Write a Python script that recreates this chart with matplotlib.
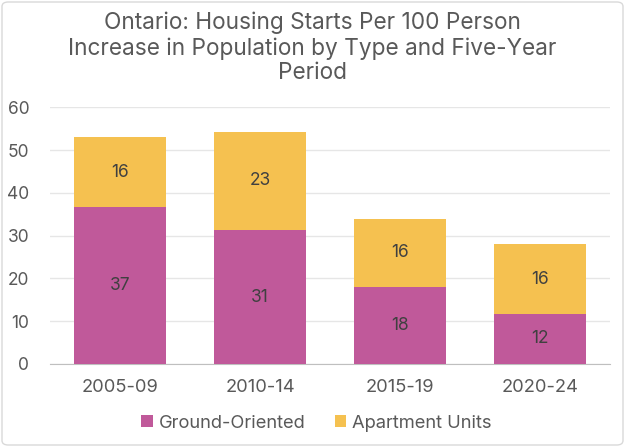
import matplotlib
matplotlib.use('Agg')
from matplotlib import pyplot as plt
from matplotlib.patches import FancyBboxPatch
import numpy as np

periods = ['2005-09', '2010-14', '2015-19', '2020-24']
ground = [36.6, 31.3, 18.0, 11.7]
apartment = [16.4, 23.0, 16.0, 16.3]

C_GROUND = '#C0599A'
C_APT = '#F5C150'
TXT = '#595959'

plt.rcParams['font.family'] = ['Inter', 'DejaVu Sans']

fig = plt.figure(figsize=(6.25, 4.47), dpi=100)
ax = fig.add_axes([50/625, 1-364/447, 560/625, (364-107.3)/447])

x = np.arange(len(periods))
w = 0.66
b1 = ax.bar(x, ground, w, color=C_GROUND, label='Ground-Oriented', zorder=3)
b2 = ax.bar(x, apartment, w, bottom=ground, color=C_APT, label='Apartment Units', zorder=3)

for i in range(len(periods)):
	ax.text(x[i], ground[i]/2, '%d' % round(ground[i]), ha='center', va='center', fontsize=12.5, color='#404040', zorder=4)
	ax.text(x[i], ground[i]+apartment[i]/2, '%d' % round(apartment[i]), ha='center', va='center', fontsize=12.5, color='#404040', zorder=4)

ax.set_xlim(-0.5, 3.5)
ax.set_ylim(0, 60)
ax.set_yticks(range(0, 61, 10))
ax.set_xticks(x)
ax.set_xticklabels(periods)
ax.tick_params(axis='both', length=0, colors=TXT)
ax.tick_params(axis='x', pad=11, labelsize=13.2)
ax.tick_params(axis='y', pad=15, labelsize=12.5)
ax.grid(axis='y', color='#E6E6E6', linewidth=1, zorder=0)
for s in ['top', 'right', 'left']:
	ax.spines[s].set_visible(False)
ax.spines['bottom'].set_color('#BFBFBF')

fig.text(0.5, 1-48/447, 'Ontario: Housing Starts Per 100 Person\nIncrease in Population by Type and Five-Year\nPeriod',
	ha='center', va='center', fontsize=16.3, color=TXT, linespacing=1.15)

fig.legend(handles=[b1, b2], loc='center', bbox_to_anchor=(0.506, 1-423/447), ncol=2, frameon=False,
	fontsize=13.2, labelcolor=TXT, handlelength=0.65, handleheight=0.65, handletextpad=0.3, columnspacing=1.6)

border = FancyBboxPatch((2/625, 2/447), 621/625, 443/447, boxstyle='round,pad=0,rounding_size=0.01',
	transform=fig.transFigure, fill=False, edgecolor='#D9D9D9', linewidth=1)
fig.patches.append(border)

plt.savefig('out.png', dpi=100)
